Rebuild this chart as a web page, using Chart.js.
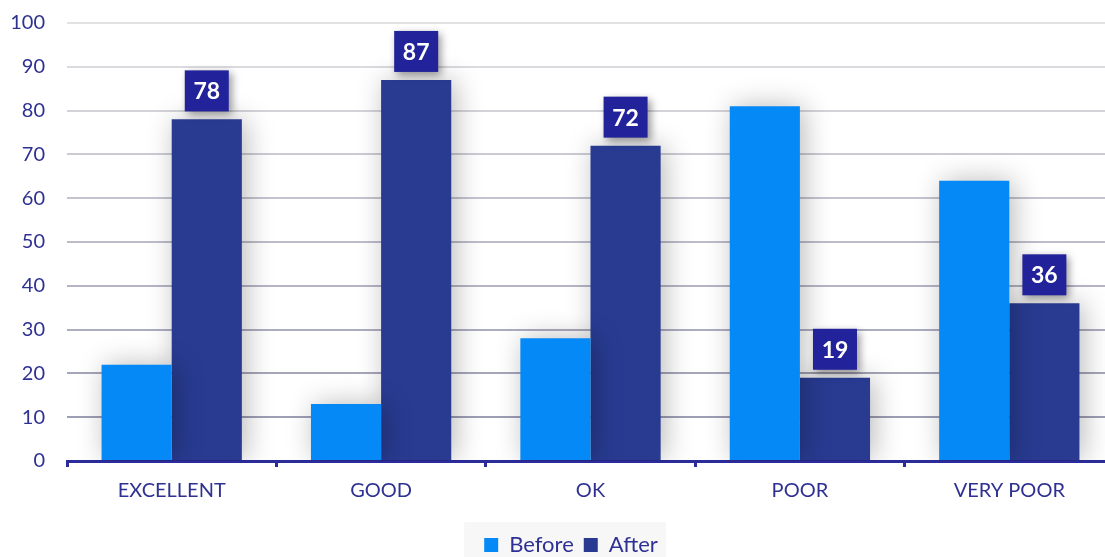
<!DOCTYPE html>
<html>
<head>
<meta charset="utf-8">
<script src="https://cdn.jsdelivr.net/npm/chart.js@4/dist/chart.umd.min.js"></script>
<style>
  html, body { margin: 0; padding: 0; background: #fff; overflow: hidden; }
  #wrap { width: 1144px; height: 557px; position: relative; }
</style>
</head>
<body>
<div id="wrap"><canvas id="grafica"></canvas></div>
<script>
// datos
const categorias = ['EXCELLENT', 'GOOD', 'OK', 'POOR', 'VERY POOR'];
const antes = [22, 13, 28, 81, 64];
const despues = [78, 87, 72, 19, 36];
const ticksY = [0, 10, 20, 30, 40, 50, 60, 70, 80, 90, 100];

const azulTexto = '#2e3192';
const fuente = 'Lato, "Open Sans", sans-serif';

// sombra suave detras de las barras
const sombraBarras = {
  id: 'sombraBarras',
  beforeDatasetsDraw(chart) {
    const ctx = chart.ctx;
    ctx.save();
    ctx.shadowColor = 'rgba(0,0,0,0.28)';
    ctx.shadowBlur = 28;
    ctx.shadowOffsetX = 4;
    ctx.shadowOffsetY = 0;
  },
  afterDatasetsDraw(chart) {
    chart.ctx.restore();
  }
};

// cajitas con el valor encima de las barras "After"
const etiquetas = {
  id: 'etiquetas',
  afterDatasetsDraw(chart) {
    const ctx = chart.ctx;
    const meta = chart.getDatasetMeta(1);
    meta.data.forEach((bar, i) => {
      const w = 44, h = 41;
      const x = bar.x - w / 2;
      const y = bar.y - 8 - h;
      ctx.save();
      ctx.shadowColor = 'rgba(0,0,0,0.4)';
      ctx.shadowBlur = 8;
      ctx.shadowOffsetX = 3;
      ctx.shadowOffsetY = 3;
      ctx.fillStyle = '#22229a';
      ctx.fillRect(x, y, w, h);
      ctx.restore();
      ctx.save();
      ctx.fillStyle = '#ffffff';
      ctx.font = 'bold 23px ' + fuente;
      ctx.textAlign = 'center';
      ctx.textBaseline = 'middle';
      ctx.fillText(String(despues[i]), bar.x, y + h / 2 + 1);
      ctx.restore();
    });
  }
};

// la leyenda va un poco a la derecha, con fondo gris
const fondoLeyenda = {
  id: 'fondoLeyenda',
  afterLayout(chart) {
    const lg = chart.legend;
    if (!lg) return;
    lg.left += 14;
    lg.right += 14;
  },
  beforeDraw(chart) {
    const lg = chart.legend;
    if (!lg || !lg.legendHitBoxes || !lg.legendHitBoxes.length) return;
    const cajas = lg.legendHitBoxes;
    const izq = cajas[0].left - 20;
    const der = cajas[cajas.length - 1].left + cajas[cajas.length - 1].width + 8;
    const arriba = cajas[0].top - 12;
    const ctx = chart.ctx;
    ctx.save();
    ctx.fillStyle = '#f7f7f7';
    ctx.fillRect(izq, arriba, der - izq, chart.height - arriba);
    ctx.restore();
  }
};

function colorGrid(v) {
  // se oscurece hacia abajo
  const t = Math.max(0, Math.min(1, (100 - v) / 90));
  const a = [226, 226, 228], b = [158, 158, 182];
  const c = a.map((x, k) => Math.round(x + (b[k] - x) * t));
  return 'rgb(' + c.join(',') + ')';
}

const ctx = document.getElementById('grafica').getContext('2d');
const myChart = new Chart(ctx, {
  type: 'bar',
  data: {
    labels: categorias,
    datasets: [
      { label: 'Before', data: antes, backgroundColor: '#0589f7', borderWidth: 0,
        categoryPercentage: 0.67, barPercentage: 1.0 },
      { label: 'After', data: despues, backgroundColor: '#283b91', borderWidth: 0,
        categoryPercentage: 0.67, barPercentage: 1.0 }
    ]
  },
  options: {
    responsive: true,
    maintainAspectRatio: false,
    animation: false,
    layout: { padding: { top: 23, right: 30, left: 0, bottom: -9 } },
    scales: {
      x: {
        z: 1,
        grid: { display: true, drawOnChartArea: false, offset: true,
                tickLength: 6, tickWidth: 3, tickColor: '#2b2b9a' },
        border: { display: true, color: '#2b2b9a', width: 3 },
        ticks: { color: azulTexto, font: { family: fuente, size: 20 }, padding: 12 },
        afterFit(scale) { scale.height = 63; }
      },
      y: {
        min: 0, max: 100,
        afterBuildTicks(scale) { scale.ticks = ticksY.map(v => ({ value: v })); },
        grid: { color: c => colorGrid(c.tick ? c.tick.value : 0), lineWidth: 2, drawTicks: false },
        border: { display: false },
        ticks: { color: azulTexto, font: { family: fuente, size: 20 }, padding: 22 },
        afterFit(scale) {
          scale.width = 67;
          scale.paddingTop = 0;
          scale.paddingBottom = 0;
        }
      }
    },
    plugins: {
      legend: {
        position: 'bottom',
        labels: {
          color: azulTexto,
          font: { family: fuente, size: 22 },
          boxWidth: 14, boxHeight: 14,
          padding: 10
        }
      },
      tooltip: { enabled: false }
    }
  },
  plugins: [fondoLeyenda, sombraBarras, etiquetas]
});
</script>
</body>
</html>
